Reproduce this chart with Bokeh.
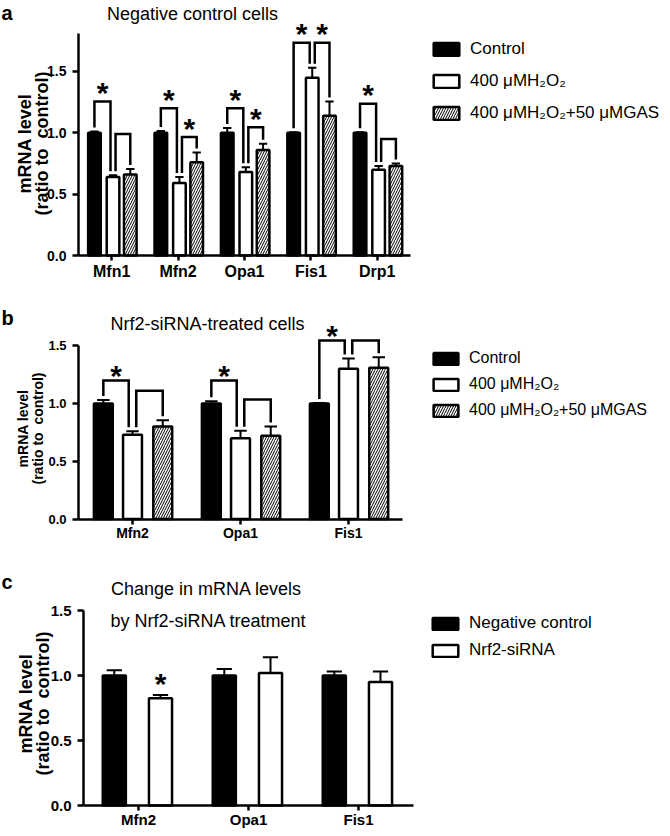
import numpy as np
from bokeh.plotting import figure
from bokeh.models import (ColumnDataSource, FixedTicker, Label, Legend, LegendItem,
                          NumeralTickFormatter, Range1d)
from bokeh.layouts import column
from bokeh.embed import file_html
from bokeh.resources import INLINE
from bokeh.core.properties import value

FONT = "Liberation Sans"
PAGE_W = 662

# ---------------- data: panel a ----------------
genes_a = ["Mfn1", "Mfn2", "Opa1", "Fis1", "Drp1"]
names_a = ["Control", "400 μMH₂O₂", "400 μMH₂O₂+50 μMGAS"]
control_a = [1.00, 1.00, 1.00, 1.00, 1.00]
control_a_err = [0.01, 0.015, 0.04, 0.005, 0.005]
h2o2_a = [0.64, 0.59, 0.68, 1.45, 0.70]
h2o2_a_err = [0.015, 0.05, 0.04, 0.08, 0.03]
gas_a = [0.66, 0.76, 0.86, 1.14, 0.73]
gas_a_err = [0.045, 0.08, 0.05, 0.115, 0.02]
# brackets: (gene index, left series, right series, bracket height, significant)
brackets_a = [(0, 0, 1, 1.255, True), (0, 1, 2, 0.99, False),
              (1, 0, 1, 1.20, True), (1, 1, 2, 0.965, True),
              (2, 0, 1, 1.20, True), (2, 1, 2, 1.046, True),
              (3, 0, 1, 1.734, True), (3, 1, 2, 1.734, True),
              (4, 0, 1, 1.237, True), (4, 1, 2, 0.95, False)]

# ---------------- data: panel b ----------------
genes_b = ["Mfn2", "Opa1", "Fis1"]
names_b = ["Control", "400 μMH₂O₂", "400 μMH₂O₂+50 μMGAS"]
control_b = [1.00, 1.00, 1.00]
control_b_err = [0.03, 0.02, 0.005]
h2o2_b = [0.73, 0.70, 1.30]
h2o2_b_err = [0.03, 0.065, 0.09]
gas_b = [0.80, 0.72, 1.31]
gas_b_err = [0.055, 0.08, 0.09]
brackets_b = [(0, 0, 1, 1.20, True), (0, 1, 2, 1.11, False),
              (1, 0, 1, 1.20, True), (1, 1, 2, 1.035, False),
              (2, 0, 1, 1.545, True), (2, 1, 2, 1.545, False)]

# ---------------- data: panel c ----------------
genes_c = ["Mfn2", "Opa1", "Fis1"]
names_c = ["Negative control", "Nrf2-siRNA"]
negctrl_c = [1.00, 1.00, 1.00]
negctrl_c_err = [0.04, 0.05, 0.03]
sirna_c = [0.825, 1.02, 0.95]
sirna_c_err = [0.025, 0.12, 0.08]
stars_c = [(0, 1)]  # (gene index, series) significant vs negative control

y_ticks = [0.0, 0.5, 1.0, 1.5]
y_label = ["mRNA level", "(ratio to\u00a0 control)"]


def style_for(kind):
    if kind == "black":
        return dict(fill_color="black", line_color="black")
    if kind == "white":
        return dict(fill_color="white", line_color="black")
    return dict(fill_color="white", line_color="black", hatch_pattern="/",
                hatch_color="black", hatch_scale=5, hatch_weight=1)


def make_panel(genes, vals, errs, names, kinds, offs, bw, fig_h, ax_x, ax_y, unit_px,
               px_per_val, y_axis_top, tick_fs, cat_fs, cat_standoff, brackets, stars,
               star_lift, leg, texts, ylab, ylab_fs):
    # ax_x, ax_y: pixel position of the axes origin inside this figure (from top-left)
    x_start = -ax_x / unit_px
    x_end = (PAGE_W - ax_x) / unit_px
    y_start = -(fig_h - ax_y) / px_per_val
    y_end = ax_y / px_per_val
    p = figure(width=PAGE_W, height=fig_h, min_border=0,
               x_range=Range1d(x_start, x_end), y_range=Range1d(y_start, y_end),
               output_backend="svg", toolbar_location=None, tools="",
               background_fill_color="white", border_fill_color="white")
    p.outline_line_color = None
    p.xgrid.visible = False
    p.ygrid.visible = False

    centers = np.arange(len(genes)) + 0.5
    cap = 0.33 * bw
    renderers = []
    for s, (v, e, kind) in enumerate(zip(vals, errs, kinds)):
        x = centers + offs[s]
        v = np.array(v)
        e = np.array(e)
        src = ColumnDataSource(dict(x=x, top=v, etop=v + e, cl=x - cap, cr=x + cap))
        r = p.vbar(x="x", top="top", width=bw, source=src, line_width=2.5, **style_for(kind))
        renderers.append(r)
        p.segment(x0="x", y0="top", x1="x", y1="etop", source=src, line_color="black", line_width=2)
        p.segment(x0="cl", y0="etop", x1="cr", y1="etop", source=src, line_color="black", line_width=2)

    gap = 4 / px_per_val
    shift = 0.2 * bw
    xs, ys, sx, sy = [], [], [], []
    for gi, a, b, h, sig in brackets:
        xa = centers[gi] + offs[a] + (shift if a == 1 else 0)
        xb = centers[gi] + offs[b] - (shift if b == 1 else 0)
        ya = vals[a][gi] + errs[a][gi] + gap
        yb = vals[b][gi] + errs[b][gi] + gap
        xs.append([xa, xa, xb, xb])
        ys.append([ya, h, h, yb])
        if sig:
            sx.append((xa + xb) / 2)
            sy.append(h)
    for gi, s in stars:
        sx.append(centers[gi] + offs[s])
        sy.append(vals[s][gi] + errs[s][gi])
    if xs:
        p.multi_line(xs, ys, line_color="black", line_width=2.5, line_join="miter")
    p.text(x=sx, y=sy, text=["*"] * len(sx), text_align="center", text_baseline="alphabetic",
           y_offset=4 - star_lift, text_font=value(FONT), text_font_style="bold",
           text_font_size="30px", text_color="black")

    # axes crossing at the data origin
    xa_ = p.xaxis[0]
    xa_.fixed_location = 0
    xa_.ticker = FixedTicker(ticks=list(centers))
    xa_.major_label_overrides = {float(c): g for c, g in zip(centers, genes)}
    xa_.bounds = (0, len(genes))
    ya_ = p.yaxis[0]
    ya_.fixed_location = 0
    ya_.ticker = FixedTicker(ticks=y_ticks)
    ya_.formatter = NumeralTickFormatter(format="0.0")
    ya_.bounds = (0, y_axis_top)
    for ax in (xa_, ya_):
        ax.axis_line_width = 2.5
        ax.axis_line_color = "black"
        ax.major_tick_line_width = 2.5
        ax.major_tick_line_color = "black"
        ax.major_tick_in = 0
        ax.minor_tick_line_color = None
        ax.major_label_text_font = FONT
        ax.major_label_text_font_style = "bold"
        ax.major_label_text_color = "black"
    xa_.major_tick_out = 5
    xa_.major_label_text_font_size = f"{cat_fs}px"
    xa_.major_label_standoff = cat_standoff
    ya_.major_tick_out = 6
    ya_.major_label_standoff = 6
    ya_.major_label_text_font_size = f"{tick_fs}px"

    # legend
    items = [LegendItem(label=n, renderers=[r]) for n, r in zip(names, renderers)]
    legend = Legend(items=items, location=leg["loc"], glyph_width=leg["gw"],
                    glyph_height=leg["gh"], label_height=leg["gh"], spacing=leg["sp"],
                    label_standoff=leg["so"], padding=0, margin=0,
                    border_line_color=None, background_fill_alpha=0,
                    label_text_font=FONT, label_text_font_size=f"{leg['fs']}px",
                    label_text_color="black")
    p.add_layout(legend, "center")

    # texts (panel letter, titles): positions given from the figure's top-left
    for t, x, y, fs, bold, align in texts:
        p.add_layout(Label(x=x, y=fig_h - y, x_units="screen", y_units="screen", text=t,
                           text_font=FONT, text_font_size=f"{fs}px",
                           text_font_style="bold" if bold else "normal",
                           text_align=align, text_baseline="middle", text_color="black"))
    for t, (x, y) in zip(y_label, ylab):
        p.add_layout(Label(x=x, y=fig_h - y, x_units="screen", y_units="screen", text=t,
                           angle=np.pi / 2, text_font=FONT, text_font_size=f"{ylab_fs}px",
                           text_font_style="bold", text_align="center",
                           text_baseline="middle", text_color="black"))
    return p


pa = make_panel(
    genes_a, [control_a, h2o2_a, gas_a], [control_a_err, h2o2_a_err, gas_a_err], names_a,
    ["black", "white", "hatch"], [-0.26, 0.02, 0.28], 0.19, 290, 78, 255, 66.4, 122.67, 1.81,
    14, 16, 2, brackets_a, [], 13,
    dict(loc=(430, 167), gw=32, gh=16, sp=12, so=8, fs=17),
    [("a", 1, 12, 20, True, "left"), ("Negative control cells", 192, 13, 18, False, "center")],
    [(24, 143), (41, 143)], 18)

pb = make_panel(
    genes_b, [control_b, h2o2_b, gas_b], [control_b_err, h2o2_b_err, gas_b_err], names_b,
    ["black", "white", "hatch"], [-0.27, 0.0, 0.28], 0.175, 258, 78, 228.5, 108, 115.5, 1.5,
    13, 14, 1, brackets_b, [], 9,
    dict(loc=(430, 129), gw=31, gh=15, sp=8, so=8, fs=16),
    [("b", 1, 27, 20, True, "left"), ("Nrf2-siRNA-treated cells", 207, 33, 18, False, "center")],
    [(22, 138), (37, 138)], 14)

pc = make_panel(
    genes_c, [negctrl_c, sirna_c], [negctrl_c_err, sirna_c_err], names_c,
    ["black", "white"], [-0.22, 0.2], 0.21, 280, 83, 257, 110, 130, 1.5,
    15, 15, 0, [], stars_c, 16,
    dict(loc=(429, 168), gw=32, gh=15, sp=7, so=8, fs=17),
    [("c", 1, 33, 20, True, "left"), ("Change in mRNA levels", 206, 40, 18, False, "center"),
     ("by Nrf2-siRNA treatment", 208, 72, 18, False, "center")],
    [(25, 155), (42, 155)], 18)

layout = column(pa, pb, pc, spacing=0)
open("out.html", "w").write(file_html(layout, INLINE))
